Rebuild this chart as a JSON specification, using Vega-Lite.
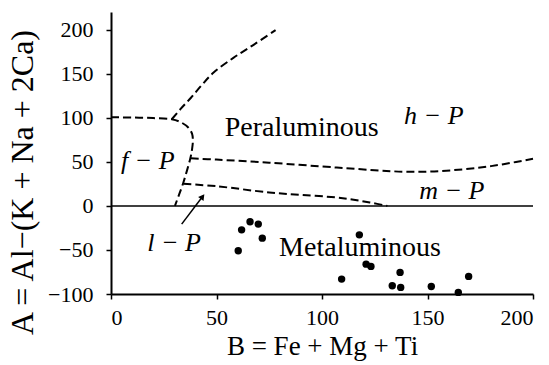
{
  "$schema": "https://vega.github.io/schema/vega-lite/v6.json",
  "width": 422,
  "height": 282,
  "autosize": "none",
  "padding": {"left": 111, "top": 12, "right": 16, "bottom": 71},
  "background": "white",
  "config": {
    "view": {"stroke": null},
    "font": "Liberation Serif",
    "axis": {
      "grid": false,
      "labelFont": "Liberation Serif",
      "labelFontWeight": "normal",
      "labelFontSize": 22,
      "labelColor": "black",
      "titleFont": "Liberation Serif",
      "titleFontWeight": "normal",
      "titleColor": "black",
      "domainColor": "black",
      "domainWidth": 2,
      "tickColor": "black",
      "tickWidth": 1.5,
      "tickSize": 5
    }
  },
  "datasets": {
    "curves": [
      {"seg": "A", "i": 1, "x": 0, "y": 100.5},
      {"seg": "A", "i": 2, "x": 10, "y": 100.3},
      {"seg": "A", "i": 3, "x": 20, "y": 99.6},
      {"seg": "A", "i": 4, "x": 28.8, "y": 98.3},
      {"seg": "A", "i": 5, "x": 33, "y": 95},
      {"seg": "A", "i": 6, "x": 36.6, "y": 89},
      {"seg": "A", "i": 7, "x": 38.4, "y": 82},
      {"seg": "A", "i": 8, "x": 38.8, "y": 74},
      {"seg": "A", "i": 9, "x": 38.4, "y": 64},
      {"seg": "A", "i": 10, "x": 37.6, "y": 54},
      {"seg": "A", "i": 11, "x": 36, "y": 40},
      {"seg": "A", "i": 12, "x": 34.3, "y": 26.5},
      {"seg": "A", "i": 13, "x": 32.3, "y": 13},
      {"seg": "A", "i": 14, "x": 30.3, "y": 0},
      {"seg": "B", "i": 1, "x": 28.8, "y": 98.3},
      {"seg": "B", "i": 2, "x": 33, "y": 110},
      {"seg": "B", "i": 3, "x": 38, "y": 123},
      {"seg": "B", "i": 4, "x": 43, "y": 137},
      {"seg": "B", "i": 5, "x": 48.5, "y": 151},
      {"seg": "B", "i": 6, "x": 58, "y": 168},
      {"seg": "B", "i": 7, "x": 67.4, "y": 182.5},
      {"seg": "B", "i": 8, "x": 78, "y": 199.5},
      {"seg": "C", "i": 1, "x": 37.8, "y": 54},
      {"seg": "C", "i": 2, "x": 50, "y": 52.5},
      {"seg": "C", "i": 3, "x": 75, "y": 49},
      {"seg": "C", "i": 4, "x": 107, "y": 43.5},
      {"seg": "C", "i": 5, "x": 125, "y": 40.5},
      {"seg": "C", "i": 6, "x": 138, "y": 38.8},
      {"seg": "C", "i": 7, "x": 150, "y": 38.8},
      {"seg": "C", "i": 8, "x": 162, "y": 40.5},
      {"seg": "C", "i": 9, "x": 175, "y": 43.5},
      {"seg": "C", "i": 10, "x": 186, "y": 47.3},
      {"seg": "C", "i": 11, "x": 200, "y": 53.5},
      {"seg": "D", "i": 1, "x": 34.3, "y": 25},
      {"seg": "D", "i": 2, "x": 50, "y": 22.3},
      {"seg": "D", "i": 3, "x": 75, "y": 15.2},
      {"seg": "D", "i": 4, "x": 90, "y": 12.5},
      {"seg": "D", "i": 5, "x": 107, "y": 9.5},
      {"seg": "D", "i": 6, "x": 115, "y": 7},
      {"seg": "D", "i": 7, "x": 122.7, "y": 3.8},
      {"seg": "D", "i": 8, "x": 131, "y": 0}
    ],
    "zero": [{"x": 0, "x2": 200, "y": 0}],
    "arrow": [{"x": 33.5, "y": -20.7, "x2": 43.5, "y2": 11}],
    "arrowhead": [{"x": 43.4, "y": 10.5}],
    "samples": [
      {"x": 60.3, "y": -51},
      {"x": 61.9, "y": -27.2},
      {"x": 65.9, "y": -18.1},
      {"x": 69.8, "y": -20.7},
      {"x": 71.7, "y": -36.6},
      {"x": 117.7, "y": -32.9},
      {"x": 109.3, "y": -83.1},
      {"x": 120.9, "y": -66.1},
      {"x": 123.2, "y": -68.7},
      {"x": 137, "y": -75.5},
      {"x": 133.3, "y": -90.7},
      {"x": 137.3, "y": -92.5},
      {"x": 151.8, "y": -91.4},
      {"x": 164.6, "y": -98.2},
      {"x": 169.5, "y": -80}
    ],
    "regions": [
      {"x": 90.4, "y": 79.4, "label": "Peraluminous"},
      {"x": 118, "y": -56.7, "label": "Metaluminous"}
    ],
    "fields": [
      {"x": 153, "y": 92.6, "label": "h − P"},
      {"x": 17.4, "y": 41.6, "label": "f − P"},
      {"x": 161.5, "y": 7.6, "label": "m − P"},
      {"x": 29.9, "y": -51, "label": "l − P"}
    ]
  },
  "layer": [
    {
      "data": {"name": "zero"},
      "mark": {"type": "rule", "color": "black", "strokeWidth": 1.5},
      "encoding": {
        "x": {"field": "x", "type": "quantitative", "scale": {"domain": [0, 200], "nice": false},
          "axis": {"values": [0, 50, 100, 150, 200], "title": "B = Fe + Mg + Ti", "titleFontSize": 27, "labelPadding": 8, "titlePadding": 5}},
        "x2": {"field": "x2"},
        "y": {"field": "y", "type": "quantitative", "scale": {"domain": [-100, 220], "nice": false},
          "axis": {"values": [-100, -50, 0, 50, 100, 150, 200], "title": "A = Al−(K + Na + 2Ca)", "titleFontSize": 32, "labelPadding": 13, "titleX": -72, "titleY": 170}}
      }
    },
    {
      "data": {"name": "curves"},
      "mark": {"type": "line", "color": "black", "strokeWidth": 2, "strokeDash": [8, 4], "interpolate": "catmull-rom"},
      "encoding": {
        "x": {"field": "x", "type": "quantitative"},
        "y": {"field": "y", "type": "quantitative"},
        "detail": {"field": "seg"},
        "order": {"field": "i", "type": "quantitative"}
      }
    },
    {
      "data": {"name": "arrow"},
      "mark": {"type": "rule", "color": "black", "strokeWidth": 1.5},
      "encoding": {
        "x": {"field": "x", "type": "quantitative"},
        "y": {"field": "y", "type": "quantitative"},
        "x2": {"field": "x2"},
        "y2": {"field": "y2"}
      }
    },
    {
      "data": {"name": "arrowhead"},
      "mark": {"type": "point", "shape": "triangle-up", "filled": true, "color": "black", "size": 45, "angle": 37, "opacity": 1},
      "encoding": {
        "x": {"field": "x", "type": "quantitative"},
        "y": {"field": "y", "type": "quantitative"}
      }
    },
    {
      "data": {"name": "samples"},
      "mark": {"type": "circle", "color": "black", "size": 55, "opacity": 1},
      "encoding": {
        "x": {"field": "x", "type": "quantitative"},
        "y": {"field": "y", "type": "quantitative"}
      }
    },
    {
      "data": {"name": "regions"},
      "mark": {"type": "text", "font": "Liberation Serif", "fontWeight": "normal", "fontSize": 28, "color": "black", "align": "center", "baseline": "alphabetic"},
      "encoding": {
        "x": {"field": "x", "type": "quantitative"},
        "y": {"field": "y", "type": "quantitative"},
        "text": {"field": "label"}
      }
    },
    {
      "data": {"name": "fields"},
      "mark": {"type": "text", "font": "Liberation Serif", "fontWeight": "normal", "fontSize": 26, "fontStyle": "italic", "color": "black", "align": "center", "baseline": "alphabetic"},
      "encoding": {
        "x": {"field": "x", "type": "quantitative"},
        "y": {"field": "y", "type": "quantitative"},
        "text": {"field": "label"}
      }
    }
  ]
}
